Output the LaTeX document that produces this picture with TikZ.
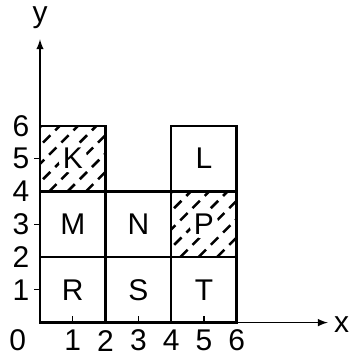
\documentclass[tikz,border=0pt]{standalone}
\usepackage{fontspec}
\setmainfont{Liberation Sans}
\usetikzlibrary{arrows, positioning}
\tikzset{
	cell/.style={draw, line width=1.1pt, minimum size=1cm, inner sep=0pt, font=\fontsize{13}{14}\selectfont},
	hatched/.style={path picture={
		\foreach \d in {-0.98,-0.7,...,1}
			\draw[line width=1.1pt, dash pattern=on 4.5pt off 3pt] ([xshift=\d cm]path picture bounding box.south west) -- ++(2cm,2cm);
		\fill[white] (path picture bounding box.center) circle (0.22cm);
	}},
	axisline/.style={->, >=latex, line width=0.5pt},
	tickmark/.style={line width=0.6pt},
	lbl/.style={font=\fontsize{13}{14}\selectfont, inner sep=0pt}
}
\begin{document}
\begin{tikzpicture}[x=0.5cm, y=0.5cm]
		\useasboundingbox (-1.22,-1.08) rectangle (9.42,9.84);
		
		\coordinate (o) at (0,0);
		\coordinate (xend) at (8.78,0);
		\coordinate (yend) at (0,8.64);
		\draw[axisline] (o) -- (xend);
		\draw[axisline] (o) -- (yend);
		\node[lbl] (xlab) at (9.2,-0.05) {x};
		\node[lbl] (ylab) at (0,9.3) {y};
		
		\foreach \i in {1,3,5} {
			\draw[tickmark] (\i,0) -- (\i,0.2);
			\draw[tickmark] (-0.18,\i) -- (0,\i);
		}
		\foreach \i in {1,...,6} {
			\node[lbl] (xt\i) at (\i,-0.55) {\i};
			\node[lbl] (yt\i) at (-0.58,\i) {\i};
		}
		\node[lbl] (zero) at (-0.68,-0.55) {0};
		
		\node[cell, hatched] (K) at (1,5) {K};
		\node[cell] (L) at (5,5) {L};
		\node[cell] (M) at (1,3) {M};
		\node[cell] (N) at (3,3) {N};
		\node[cell, hatched] (P) at (5,3) {P};
		\node[cell] (R) at (1,1) {R};
		\node[cell] (S) at (3,1) {S};
		\node[cell] (T) at (5,1) {T};
	\end{tikzpicture}
\end{document}
